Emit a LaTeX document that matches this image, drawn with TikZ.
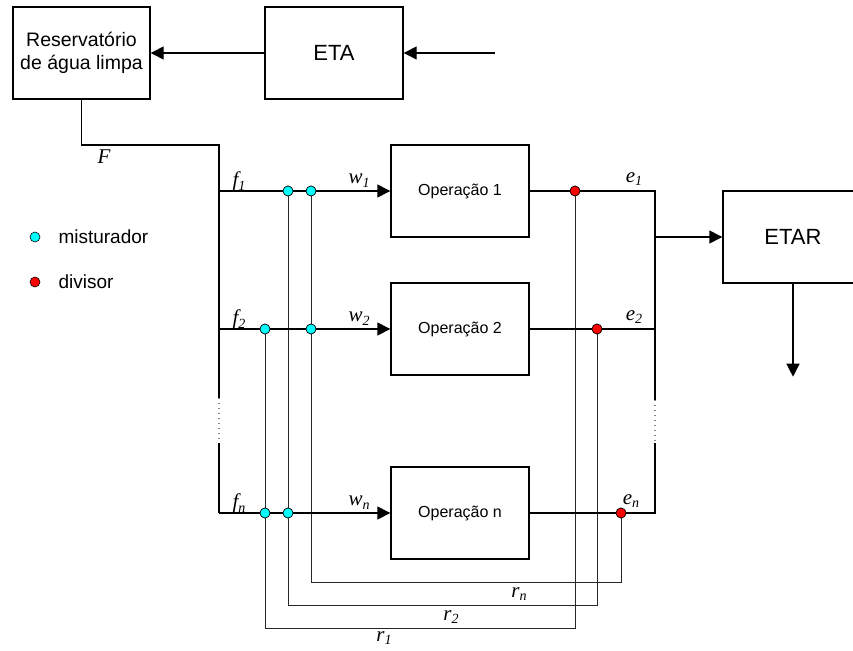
\documentclass[tikz,border=0pt]{standalone}
\usepackage{fontspec}
\setmainfont{Liberation Sans}
\newfontfamily\serifit{Liberation Serif}
\usetikzlibrary{arrows.meta,positioning}

\definecolor{mixcyan}{RGB}{0,255,255}
\definecolor{divred}{RGB}{255,0,0}

% caudal com indice (estilo Times italico)
\newcommand{\caudal}[2]{{\serifit\itshape #1\raisebox{-0.4ex}{\fontsize{14}{14}\selectfont #2}}}

\tikzset{
    unitbox/.style={draw, line width=1.4pt, minimum width=138pt, minimum height=92pt, inner sep=0pt},
    pipe/.style={line width=1.4pt},
    recycle/.style={line width=0.7pt, black!85},
    flowarrow/.style={pipe, -{Triangle[length=13pt,width=13pt]}},
    mixer/.style={circle, draw, line width=0.6pt, fill=mixcyan, minimum size=10pt, inner sep=0pt},
    splitter/.style={circle, draw, line width=0.6pt, fill=divred, minimum size=10pt, inner sep=0pt},
    gap/.style={gray, line width=1.4pt, dash pattern=on 1.4pt off 3.6pt},
    lbl/.style={font=\fontsize{21}{21}\selectfont, inner sep=0pt}
}

\begin{document}
\begin{tikzpicture}[x=1pt, y=-1pt]
        \useasboundingbox (0,0) rectangle (853,650);

        % ================= Tratamento de agua =================
        \node[unitbox, font=\fontsize{19.5}{23}\selectfont, align=center, minimum width=137pt] (res) at (81.5,53) {Reservatório\\de água limpa};
        \node[unitbox, font=\fontsize{22}{22}\selectfont] (eta) at (334,53) {ETA};
        \coordinate (raw) at (495,53);
        \draw[flowarrow] (raw) -- (eta.east);
        \draw[flowarrow] (eta.west) -- (res.east);

        % ================= Operacoes =================
        \node[unitbox, font=\fontsize{16}{16}\selectfont] (op1) at (460,191) {Operação 1};
        \node[unitbox, font=\fontsize{16}{16}\selectfont] (op2) at (460,329) {Operação 2};
        \node[unitbox, font=\fontsize{16}{16}\selectfont] (opn) at (460,513) {Operação n};
        \node[unitbox, font=\fontsize{22}{22}\selectfont, minimum width=140pt] (etar) at (793,237) {ETAR};

        % 1. pontos de ligacao
        \coordinate (topL) at (219,145);
        \coordinate (f1) at (219,191);
        \coordinate (f2) at (219,329);
        \coordinate (fn) at (219,513);
        \coordinate (dotL1) at (219,398);
        \coordinate (dotL2) at (219,443);
        \coordinate (e1) at (655,191);
        \coordinate (e2) at (655,329);
        \coordinate (en) at (655,513);
        \coordinate (dotR1) at (655,400);
        \coordinate (dotR2) at (655,443);
        \coordinate (tap) at (655,237);

        % 2. misturadores e divisores
        \node[mixer] (m11) at (288,191) {};
        \node[mixer] (m12) at (311,191) {};
        \node[mixer] (m21) at (265,329) {};
        \node[mixer] (m22) at (311,329) {};
        \node[mixer] (mn1) at (265,513) {};
        \node[mixer] (mn2) at (288,513) {};
        \node[splitter] (d1) at (575,191) {};
        \node[splitter] (d2) at (597,329) {};
        \node[splitter] (dn) at (621,513) {};

        % 3. reciclos (linhas finas)
        \draw[recycle] (d1.center) -- ++(0,437) -| (m21.center);
        \draw[recycle] (d2.center) -- ++(0,276) -| (m11.center);
        \draw[recycle] (dn.center) -- ++(0,69) -| (m12.center);

        % 4. agua limpa ate as operacoes
        \draw[pipe] (res.south) |- (topL) -- (dotL1);
        \draw[gap] (dotL1) -- (dotL2);
        \draw[pipe] (dotL2) -- (fn);
        \draw[flowarrow] (f1) -- (op1.west);
        \draw[flowarrow] (f2) -- (op2.west);
        \draw[flowarrow] (fn) -- (opn.west);

        % 5. efluentes ate a ETAR
        \draw[pipe] (op1.east) -- (e1) -- (dotR1);
        \draw[gap] (dotR1) -- (dotR2);
        \draw[pipe] (dotR2) -- (en) -- (opn.east);
        \draw[pipe] (op2.east) -- (e2);
        \draw[flowarrow] (tap) -- (etar.west);
        \draw[flowarrow] (etar.south) -- ++(0,93);

        % redesenhar os pontos por cima das linhas
        \foreach \p in {m11,m12,m21,m22,mn1,mn2} {
            \node[mixer] at (\p) {};
        }
        \foreach \p in {d1,d2,dn} {
            \node[splitter] at (\p) {};
        }

        % 6. rotulos dos caudais
        \node[lbl] at (104,159) {\caudal{F}{}};
        \node[lbl] at (239,181) {\caudal{f}{1}};
        \node[lbl] at (239,319) {\caudal{f}{2}};
        \node[lbl] at (239,503) {\caudal{f}{n}};
        \node[lbl] at (359,181) {\caudal{w}{1}};
        \node[lbl] at (359,319) {\caudal{w}{2}};
        \node[lbl] at (359,503) {\caudal{w}{n}};
        \node[lbl] at (634,179) {\caudal{e}{1}};
        \node[lbl] at (634,317) {\caudal{e}{2}};
        \node[lbl] at (631,501) {\caudal{e}{n}};
        \node[lbl] at (519,594) {\caudal{r}{n}};
        \node[lbl] at (451,617) {\caudal{r}{2}};
        \node[lbl] at (384,638) {\caudal{r}{1}};

        % 7. legenda
        \node[mixer] (legmix) at (35,237) {};
        \node[right=18pt of legmix, inner sep=0pt, font=\fontsize{19}{19}\selectfont] {misturador};
        \node[splitter] (legdiv) at (35,282) {};
        \node[right=18pt of legdiv, inner sep=0pt, font=\fontsize{19}{19}\selectfont] {divisor};

    \end{tikzpicture}
\end{document}
